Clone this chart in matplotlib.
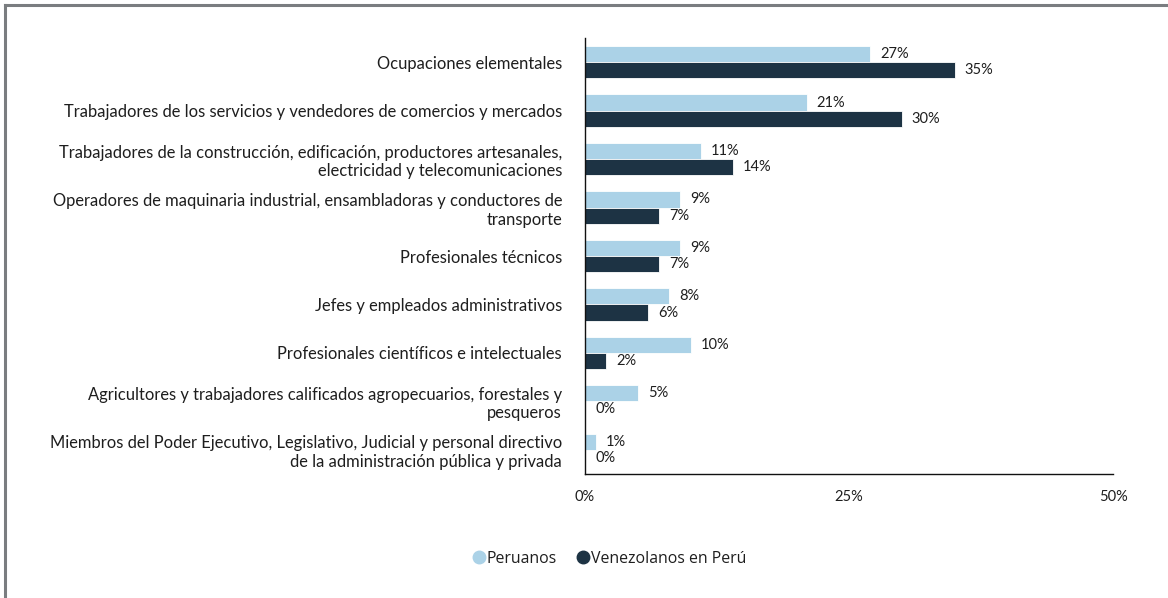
import matplotlib
matplotlib.use("Agg")
import matplotlib.pyplot as plt
from matplotlib.lines import Line2D
import numpy as np

categories = [
    "Ocupaciones elementales",
    "Trabajadores de los servicios y vendedores de comercios y mercados",
    "Trabajadores de la construcción, edificación, productores artesanales,\nelectricidad y telecomunicaciones",
    "Operadores de maquinaria industrial, ensambladoras y conductores de\ntransporte",
    "Profesionales técnicos",
    "Jefes y empleados administrativos",
    "Profesionales científicos e intelectuales",
    "Agricultores y trabajadores calificados agropecuarios, forestales y\npesqueros",
    "Miembros del Poder Ejecutivo, Legislativo, Judicial y personal directivo\nde la administración pública y privada",
]
peruanos = [27, 21, 11, 9, 9, 8, 10, 5, 1]
venezolanos = [35, 30, 14, 7, 7, 6, 2, 0, 0]
series_names = ["Peruanos", "Venezolanos en Perú"]
x_ticks = [0, 25, 50]

light = "#abd2e7"
dark = "#1d3344"
text_color = "#1e1e1e"
font = "Lato"

fig = plt.figure(figsize=(11.68, 5.98), dpi=100)
ax = fig.add_axes([585 / 1168, 1 - 474 / 598, (1113 - 585) / 1168, (474 - 38) / 598])

y = np.arange(len(categories))
h = 0.335
bars_p = ax.barh(y - h / 2, peruanos, height=h, color=light, edgecolor="white", linewidth=0.6)
bars_v = ax.barh(y + h / 2, venezolanos, height=h, color=dark, edgecolor="white", linewidth=0.6)

for bars, vals in ((bars_p, peruanos), (bars_v, venezolanos)):
    for b, v in zip(bars, vals):
        ax.annotate(f"{v}%", (v, b.get_y() + b.get_height() / 2),
                    xytext=(7.2, 0), textcoords="offset points",
                    ha="left", va="center", fontsize=10.5, family=font, color=text_color)

ax.set_xlim(0, 50)
ax.set_ylim(len(categories) - 0.5, -0.5)
ax.set_xticks(x_ticks)
ax.set_xticklabels([f"{t}%" for t in x_ticks], family=font, fontsize=10.5, color=text_color)
ax.set_yticks(y)
ax.set_yticklabels(categories, family=font, fontsize=11.9, color=text_color, ha="right",
                   linespacing=1.2)
ax.tick_params(axis="both", length=0)
ax.tick_params(axis="y", pad=16.5)
ax.tick_params(axis="x", pad=11.5)
for s in ("top", "right"):
    ax.spines[s].set_visible(False)
for s in ("left", "bottom"):
    ax.spines[s].set_color("#111111")
    ax.spines[s].set_linewidth(1.0)

handles = [Line2D([], [], marker="o", linestyle="", markersize=9, color=c)
           for c in (light, dark)]
fig.legend(handles, series_names, loc="center", bbox_to_anchor=(610 / 1168, 1 - 559 / 598),
           ncol=2, frameon=False, handlelength=0.7, handletextpad=0.15, columnspacing=1.3,
           prop={"family": "Open Sans", "size": 11.4}, labelcolor=text_color)

# frame lines along the top and left edges
fig.add_artist(Line2D([5 / 1168, 1], [1 - 5 / 598, 1 - 5 / 598], transform=fig.transFigure,
                      color="#7a7d80", linewidth=2.2))
fig.add_artist(Line2D([5 / 1168, 5 / 1168], [0, 1 - 5 / 598], transform=fig.transFigure,
                      color="#7a7d80", linewidth=2.2))

fig.savefig("out.png", dpi=100, facecolor="white")
